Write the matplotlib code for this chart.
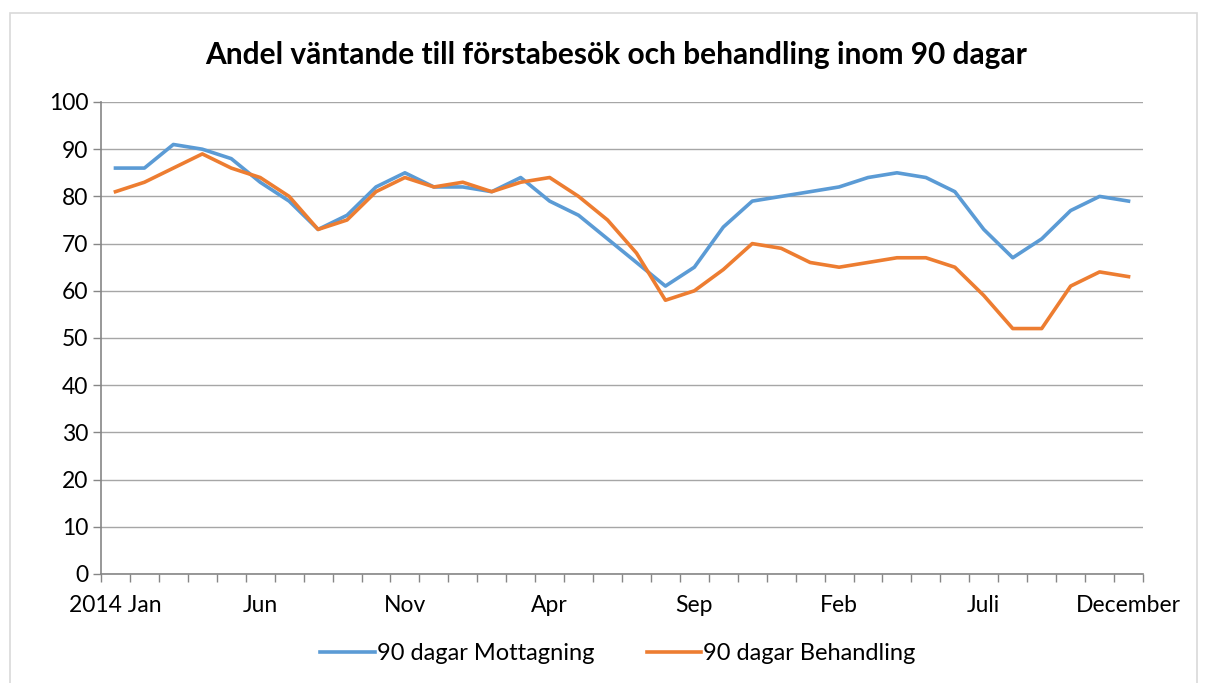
import matplotlib
matplotlib.use("Agg")
import matplotlib.pyplot as plt
from matplotlib.patches import Rectangle

months = ["Jan", "Feb", "Mar", "Apr", "Maj", "Jun", "Jul", "Aug", "Sep", "Okt", "Nov", "Dec"] * 3
tick_labels = ["2014 Jan", "Jun", "Nov", "Apr", "Sep", "Feb", "Juli", "December"]
tick_idx = [0, 5, 10, 15, 20, 25, 30, 35]

mottagning = [86, 86, 91, 90, 88, 83, 79, 73, 76, 82, 85, 82, 82, 81, 84, 79, 76, 71,
              66, 61, 65, 73.5, 79, 80, 81, 82, 84, 85, 84, 81, 73, 67, 71, 77, 80, 79]
behandling = [81, 83, 86, 89, 86, 84, 80, 73, 75, 81, 84, 82, 83, 81, 83, 84, 80, 75,
              68, 58, 60, 64.5, 70, 69, 66, 65, 66, 67, 67, 65, 59, 52, 52, 61, 64, 63]

plt.rcParams['font.family'] = ['Lato', 'DejaVu Sans']

fig = plt.figure(figsize=(12.06, 6.83), dpi=100)
ax = fig.add_axes([101/1206, 1-574/683, (1143-101)/1206, (574-102)/683])

x = list(range(len(mottagning)))
l1, = ax.plot(x, mottagning, color="#5B9BD5", lw=2.6, solid_joinstyle="round", label="90 dagar Mottagning")
l2, = ax.plot(x, behandling, color="#ED7D31", lw=2.6, solid_joinstyle="round", label="90 dagar Behandling")

ax.set_xlim(-0.5, len(x) - 0.5)
ax.set_ylim(0, 100)
ax.set_yticks(range(0, 101, 10))
ax.yaxis.grid(True, color="#A6A6A6", lw=1.0)
ax.set_axisbelow(True)

ax.set_xticks(tick_idx)
ax.set_xticklabels(tick_labels)
ax.set_xticks([i - 0.5 for i in range(len(x) + 1)], minor=True)
ax.tick_params(axis="x", which="major", length=0, pad=15, labelsize=16.5)
ax.tick_params(axis="x", which="minor", length=6, width=1, color="#868686", direction="out")
ax.tick_params(axis="y", length=6, width=1, color="#868686", direction="out", labelsize=16.5, pad=3)

for s in ["top", "right"]:
    ax.spines[s].set_visible(False)
for s in ["left", "bottom"]:
    ax.spines[s].set_color("#868686")
    ax.spines[s].set_linewidth(1.2)

fig.text(616/1206, 1-55/683, "Andel väntande till förstabesök och behandling inom 90 dagar",
         ha="center", va="center", fontsize=21.5, fontweight="bold")

fig.legend(handles=[l1, l2], loc="center", bbox_to_anchor=(618/1206, 1-654/683),
           ncol=2, frameon=False, fontsize=17, handlelength=2.3, handletextpad=0.1,
           columnspacing=2.2)

fig.patches.append(Rectangle((10/1206, -0.01), 1187/1206, 1-13/683 + 0.01, transform=fig.transFigure,
                             fill=False, edgecolor="#D9D9D9", lw=1.2))

fig.savefig("out.png", dpi=100)
